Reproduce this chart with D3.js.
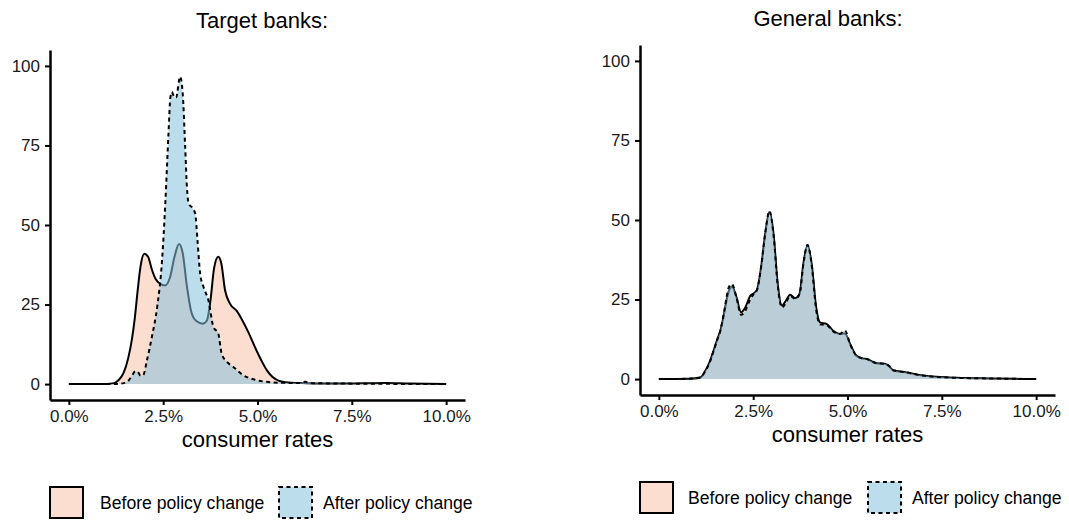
<!DOCTYPE html>
<html>
<head>
<meta charset="utf-8">
<script src="https://cdn.jsdelivr.net/npm/d3@7"></script>
<style>
  html, body { margin: 0; padding: 0; background: #fff; }
  svg { display: block; font-family: "Liberation Sans", Arial, sans-serif; }
</style>
</head>
<body>
<svg id="chart" width="1069" height="521"></svg>
<script>
// Consumer-rate density estimates (rate in %, density value)
const targetBeforeRate = [0, 1.0, 1.2, 1.32, 1.45, 1.57, 1.67, 1.75, 1.82, 1.9, 2.0, 2.1, 2.2, 2.3, 2.42, 2.55, 2.68, 2.8, 2.92, 3.02, 3.12, 3.25, 3.38, 3.55, 3.66, 3.75, 3.85, 3.96, 4.04, 4.14, 4.27, 4.45, 4.6, 4.75, 4.93, 5.1, 5.25, 5.4, 5.6, 5.9, 6.3, 7.0, 7.8, 8.4, 9.0, 10];
const targetBeforeDensity = [0, 0.05, 0.3, 1.3, 3.5, 8, 14, 21, 29, 37, 41, 40, 36, 33, 31.5, 31, 33.5, 40, 44, 41, 31.5, 22.5, 19.8, 19, 20, 26, 36.5, 40, 38, 29.5, 25.3, 23, 20, 16.5, 11.7, 7.5, 4.3, 2.2, 0.9, 0.4, 0.3, 0.2, 0.25, 0.35, 0.2, 0];

const targetAfterRate = [0, 1.3, 1.45, 1.59, 1.68, 1.76, 1.83, 1.9, 1.97, 2.07, 2.2, 2.34, 2.47, 2.56, 2.64, 2.69, 2.73, 2.78, 2.84, 2.95, 3.02, 3.08, 3.13, 3.18, 3.26, 3.35, 3.41, 3.48, 3.57, 3.7, 3.83, 3.96, 4.05, 4.19, 4.36, 4.62, 4.89, 5.24, 5.69, 6.1, 6.26, 6.45, 7.0, 8.0, 9.0, 10];
const targetAfterDensity = [0, 0.05, 0.3, 1.2, 2.8, 4.0, 3.8, 2.6, 2.8, 7.5, 14.8, 24.2, 38.9, 57.7, 78.6, 90, 91.8, 90.5, 90, 96.6, 91, 75.4, 61.8, 56.6, 55.6, 53.5, 45, 34.7, 30.5, 26.3, 18, 15.9, 9.6, 7.0, 5.4, 2.8, 1.5, 0.7, 0.4, 0.35, 0.7, 0.3, 0.2, 0.1, 0.05, 0];

const generalRate = [0, 0.8, 1.1, 1.23, 1.35, 1.45, 1.55, 1.63, 1.72, 1.8, 1.86, 1.94, 2.05, 2.18, 2.29, 2.42, 2.52, 2.6, 2.71, 2.82, 2.93, 3.04, 3.15, 3.26, 3.37, 3.48, 3.61, 3.73, 3.83, 3.94, 4.05, 4.17, 4.27, 4.45, 4.62, 4.8, 4.93, 5.07, 5.24, 5.4, 5.51, 5.77, 5.99, 6.1, 6.21, 6.56, 7.0, 7.9, 8.8, 10];
const generalBeforeDensity = [0, 0.1, 0.5, 2.6, 5.5, 8.9, 12.5, 15.2, 20, 25, 27.8, 29, 26, 21, 22.5, 26.1, 27, 28, 35.1, 45.6, 52.5, 45.6, 29.9, 23.1, 24.7, 26.5, 25.4, 26.8, 36.2, 42, 36.2, 22.5, 17.8, 17.3, 15.2, 14.2, 14.3, 11, 7.3, 6.5, 6.3, 5, 4.8, 4.0, 2.8, 2.1, 1.1, 0.4, 0.2, 0];
const generalAfterDensity = [0, 0.1, 0.5, 2.5, 5.3, 8.8, 12.5, 15.3, 20.5, 26, 29, 29.8, 26, 20.2, 21.5, 25, 26.8, 28, 35.3, 46, 52.8, 45.4, 29.5, 22.5, 24, 26.2, 25.2, 26.8, 36.2, 42.2, 36, 21.8, 17.2, 16.9, 15, 14.2, 15.3, 11, 7.3, 6.5, 6.3, 5, 4.8, 4.2, 2.8, 2.1, 1.1, 0.4, 0.2, 0];

const xTicks = [0, 2.5, 5, 7.5, 10];
const yTicks = [0, 25, 50, 75, 100];
const groupLabels = ["Before policy change", "After policy change"];

const zip = (xs, ys) => xs.map((x, i) => ({ x, y: ys[i] }));

const panels = [
  {
    title: "Target banks:",
    left: 50, right: 465, top: 50, bottom: 400,
    titleX: 262, titleY: 28,
    before: zip(targetBeforeRate, targetBeforeDensity),
    after: zip(targetAfterRate, targetAfterDensity),
    legendY: 487, legendBoxes: [50, 279], legendText: [100, 323]
  },
  {
    title: "General banks:",
    left: 640, right: 1055, top: 45, bottom: 395,
    titleX: 828, titleY: 26,
    before: zip(generalRate, generalBeforeDensity),
    after: zip(generalRate, generalAfterDensity),
    legendY: 482, legendBoxes: [640, 868], legendText: [688, 912]
  }
];

const beforeFill = "#FCDED1";
const afterFill = "#85C1DC";
const afterOpacity = 0.55;

const svg = d3.select("#chart");

panels.forEach(p => {
  const g = svg.append("g");
  const x = d3.scaleLinear().domain([-0.5, 10.5]).range([p.left, p.right]);
  const y = d3.scaleLinear().domain([-5, 105]).range([p.bottom, p.top]);

  const area = d3.area().x(d => x(d.x)).y0(y(0)).y1(d => y(d.y)).curve(d3.curveMonotoneX);
  const line = d3.line().x(d => x(d.x)).y(d => y(d.y)).curve(d3.curveMonotoneX);

  // before: fill then outline
  g.append("path").datum(p.before).attr("d", area).attr("fill", beforeFill);
  g.append("path").datum(p.before).attr("d", line)
    .attr("fill", "none").attr("stroke", "#000").attr("stroke-width", 2);

  // after: translucent fill drawn over, then dashed outline
  g.append("path").datum(p.after).attr("d", area)
    .attr("fill", afterFill).attr("fill-opacity", afterOpacity);
  g.append("path").datum(p.after).attr("d", line)
    .attr("fill", "none").attr("stroke", "#000").attr("stroke-width", 2)
    .attr("stroke-dasharray", "4,3.5");

  // axes
  const xAxis = g.append("g").attr("transform", `translate(0,${p.bottom})`)
    .call(d3.axisBottom(x).tickValues(xTicks).tickSize(5).tickSizeOuter(0).tickPadding(5)
      .tickFormat(d => d3.format(".1f")(d) + "%"));
  const yAxis = g.append("g").attr("transform", `translate(${p.left},0)`)
    .call(d3.axisLeft(y).tickValues(yTicks).tickSize(5).tickSizeOuter(0).tickPadding(5));

  [xAxis, yAxis].forEach(a => {
    a.select(".domain").attr("stroke", "#000").attr("stroke-width", 2.5);
    a.selectAll(".tick line").attr("stroke", "#000").attr("stroke-width", 2);
    a.selectAll(".tick text").attr("fill", "#1a1a1a").style("font-size", "17px")
      .style("font-family", "'Liberation Sans', Arial, sans-serif");
  });

  // titles
  g.append("text").attr("x", p.titleX).attr("y", p.titleY).attr("text-anchor", "middle")
    .style("font-size", "22px").attr("fill", "#000").text(p.title);
  g.append("text").attr("x", (p.left + p.right) / 2).attr("y", p.bottom + 47)
    .attr("text-anchor", "middle").style("font-size", "22px").attr("fill", "#000")
    .text("consumer rates");

  // legend
  const boxW = 33, boxH = 31;
  p.legendBoxes.forEach((bx, i) => {
    const r = g.append("rect").attr("x", bx).attr("y", p.legendY)
      .attr("width", boxW).attr("height", boxH)
      .attr("stroke", "#000").attr("stroke-width", 2);
    if (i === 0) {
      r.attr("fill", beforeFill);
    } else {
      r.attr("fill", d3.interpolateRgb("#fff", afterFill)(afterOpacity))
        .attr("stroke-dasharray", "4,3.5");
    }
    g.append("text").attr("x", p.legendText[i]).attr("y", p.legendY + boxH / 2)
      .attr("dy", "0.35em").style("font-size", "17.6px").attr("fill", "#000")
      .text(groupLabels[i]);
  });
});
</script>
</body>
</html>
